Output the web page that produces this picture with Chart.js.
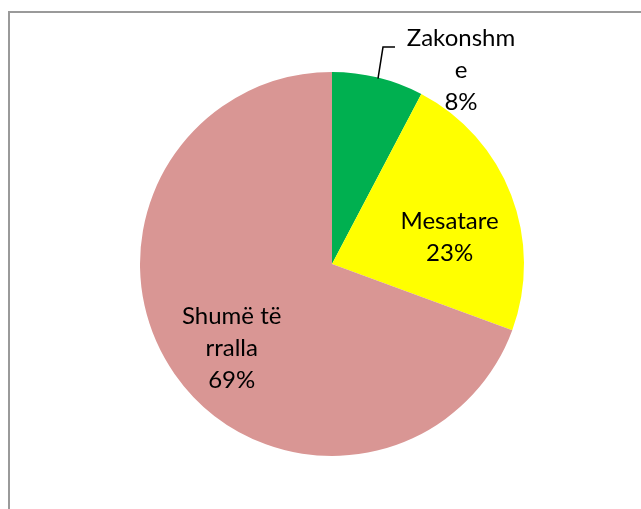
<!DOCTYPE html>
<html>
<head>
<meta charset="utf-8">
<script src="https://cdn.jsdelivr.net/npm/chart.js@4/dist/chart.umd.min.js"></script>
<style>
  html, body { margin: 0; padding: 0; background: #fff; overflow: hidden; }
  #wrap { position: relative; width: 641px; height: 509px; }
  #frame { position: absolute; left: 8px; top: 11px; width: 700px; height: 600px;
           border: 2px solid #9a9a9a; box-sizing: border-box; }
  canvas { position: absolute; left: 0; top: 0; }
</style>
</head>
<body>
<div id="wrap">
  <div id="frame"></div>
  <canvas id="myChart" width="641" height="509"></canvas>
</div>
<script>
'use strict';

var categories = ["Zakonshme", "Mesatare", "Shumë të rralla"];
var values = [7.7, 22.9, 69.4];
var percentLabels = ["8%", "23%", "69%"];
// how the category names wrap inside the label box
var labelLines = [["Zakonshm", "e"], ["Mesatare"], ["Shumë të", "rralla"]];

var colors = ["#00B050", "#FFFF00", "#D99694"];

// per slice: radius factor from centre, then a pixel nudge
var labelPlace = [
  { r: 1.0, dx: 83, dy: -7 },
  { r: 0.62, dx: 6.5, dy: 16 },
  { r: 0.745, dx: 17, dy: 2 }
];

var sliceLabels = {
  id: 'sliceLabels',
  afterDatasetsDraw: function(chart) {
    var ctx = chart.ctx;
    var arcs = chart.getDatasetMeta(0).data;
    ctx.save();
    ctx.font = '24px Lato, "Liberation Sans", sans-serif';
    ctx.fillStyle = '#000';
    ctx.textAlign = 'center';
    ctx.textBaseline = 'middle';
    var lh = 32;
    arcs.forEach(function(arc, i) {
      var p = arc.getProps(['x', 'y', 'startAngle', 'endAngle', 'outerRadius']);
      var mid = (p.startAngle + p.endAngle) / 2;
      var rr = p.outerRadius * labelPlace[i].r;
      var cx = p.x + Math.cos(mid) * rr + labelPlace[i].dx;
      var cy = p.y + Math.sin(mid) * rr + labelPlace[i].dy;
      var lines = labelLines[i].concat([percentLabels[i]]);
      var y0 = cy - (lines.length - 1) * lh / 2;
      lines.forEach(function(t, k) {
        ctx.fillText(t, cx, y0 + k * lh);
      });
      if (i === 0) {
        // leader line from the slice edge to the label
        var ex = p.x + Math.cos(mid) * p.outerRadius;
        var ey = p.y + Math.sin(mid) * p.outerRadius;
        ctx.strokeStyle = '#000';
        ctx.lineWidth = 1.5;
        ctx.beginPath();
        ctx.moveTo(ex, ey + 1);
        ctx.lineTo(ex + 5, y0 + 8.5);
        ctx.lineTo(ex + 17, y0 + 8.5);
        ctx.stroke();
      }
    });
    ctx.restore();
  }
};

var ctx = document.getElementById("myChart").getContext("2d");

var myChart = new Chart(ctx, {
  type: 'pie',
  data: {
    labels: categories,
    datasets: [{
      data: values,
      backgroundColor: colors,
      borderWidth: 0
    }]
  },
  options: {
    responsive: false,
    animation: false,
    layout: { padding: { left: 140, top: 72, right: 117, bottom: 53 } },
    plugins: {
      legend: { display: false },
      tooltip: { enabled: false }
    }
  },
  plugins: [sliceLabels]
});
</script>
</body>
</html>
